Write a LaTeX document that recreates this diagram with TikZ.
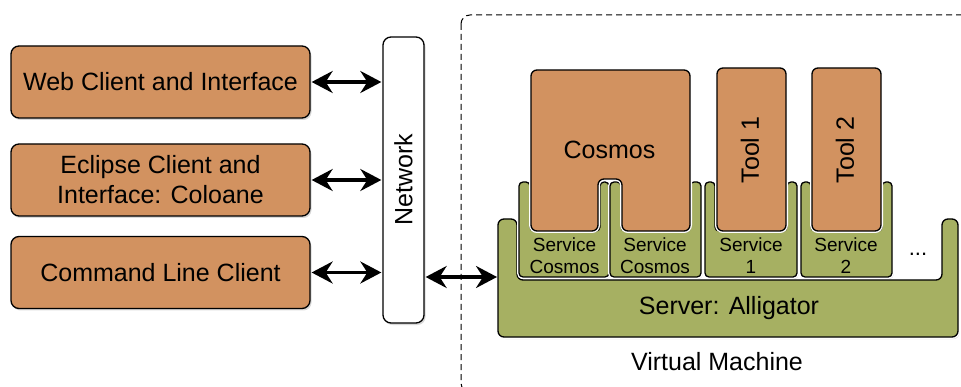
\documentclass[tikz,border=0pt]{standalone}
\usepackage{fontspec}
\setmainfont{Liberation Sans}
\usetikzlibrary{arrows.meta,shadows}
\definecolor{boxorange}{RGB}{210,146,96}
\definecolor{boxgreen}{RGB}{166,176,98}
\newcommand\mainsz{\fontsize{25}{30}\selectfont}
\newcommand\servsz{\fontsize{19}{22}\selectfont}
\begin{document}
\begin{tikzpicture}[x=1pt,y=-1pt,
  shade/.style={drop shadow={shadow xshift=1.5pt,shadow yshift=-2pt,opacity=0.3}},
  halo/.style={preaction={draw=white,line width=4pt}},
  outline/.style={draw=black,line width=1.3pt},
  client/.style={outline,fill=boxorange,rounded corners=8pt,minimum width=299pt,
    minimum height=72pt,align=center,font=\mainsz,shade},
  netbox/.style={outline,fill=white,rounded corners=8pt,minimum width=41pt,
    minimum height=286pt,font=\mainsz,shade},
  tool/.style={outline,fill=boxorange,rounded corners=6pt,minimum width=69pt,
    minimum height=163pt,font=\mainsz,shade,halo},
  comp/.style={outline,rounded corners=#1,shade,halo},
  lbl/.style={font=\mainsz},
  slbl/.style={font=\servsz,align=center},
  tip/.tip={Stealth[length=21pt 0,width=22pt 0,inset=7pt 0]},
  arr/.style={tip-tip,line width=3.2pt,shorten <=1pt,shorten >=1pt},
  vm/.style={dash pattern=on 6pt off 4pt,line width=1pt,rounded corners=9pt}]
\useasboundingbox (0,0) rectangle (961,387);

% virtual machine frame
\begin{scope}
  \clip (0,0) rectangle (961,387);
  \draw[vm] (461,15) rectangle (1000,392);
\end{scope}
\node[lbl] (vmlabel) at (717,362) {Virtual Machine};

% clients
\node[client] (web) at (160.5,82) {Web Client and Interface};
\node[client] (ecl) at (160.5,180) {Eclipse Client and\\Interface: Coloane};
\node[client] (cmd) at (160.5,272.5) {Command Line Client};

% network
\node[netbox] (net) at (403.5,180) {\rotatebox{90}{Network}};

% server
\path[comp=6pt,fill=boxgreen] (498,337) -- (498,219) -- (517,219) -- (517,280)
  -- (942,280) -- (942,219) -- (958,219) -- (958,337) -- cycle;
\node[lbl] (srvlabel) at (729,308) {Server: Alligator};
\coordinate (srvin) at (498,277);

% services
\path[comp=4pt,fill=boxgreen] (519,277) -- (519,182) -- (530,182) -- (530,231)
  -- (600,231) -- (600,182) -- (609,182) -- (609,277) -- cycle;
\path[comp=4pt,fill=boxgreen] (610,277) -- (610,182) -- (621,182) -- (621,231)
  -- (690,231) -- (690,182) -- (701,182) -- (701,277) -- cycle;
\path[comp=4pt,fill=boxgreen] (705,277) -- (705,182) -- (715,182) -- (715,231)
  -- (787,231) -- (787,182) -- (797,182) -- (797,277) -- cycle;
\path[comp=4pt,fill=boxgreen] (801,277) -- (801,182) -- (811,182) -- (811,231)
  -- (882,231) -- (882,182) -- (892,182) -- (892,277) -- cycle;
\node[slbl] (sc1) at (564.5,255.5) {Service\\Cosmos};
\node[slbl] (sc2) at (655,255.5) {Service\\Cosmos};
\node[slbl] (s1) at (751,255.5) {Service\\1};
\node[slbl] (s2) at (846,255.5) {Service\\2};
\node[font=\fontsize{22}{24}\selectfont] (dots) at (918,254) {...};

% cosmos
\path[comp=6pt,fill=boxorange] (531,231) -- (531,70) -- (690,70) -- (690,231)
  -- (622,231) -- (622,179) -- (598,179) -- (598,231) -- cycle;
\node[lbl] (cosmos) at (609.5,150) {Cosmos};

% tools
\node[tool] (tool1) at (751.5,149.5) {};
\node[lbl] (t1) at (750,150) {\rotatebox{90}{Tool 1}};
\node[tool] (tool2) at (846.5,149.5) {};
\node[lbl] (t2) at (845,150) {\rotatebox{90}{Tool 2}};

% connectors
\draw[arr] (web.east) -- (web.east -| net.west);
\draw[arr] (ecl.east) -- (ecl.east -| net.west);
\draw[arr] (cmd.east) -- (cmd.east -| net.west);
\draw[arr] (net.east |- srvin) -- (srvin);
\end{tikzpicture}
\end{document}
